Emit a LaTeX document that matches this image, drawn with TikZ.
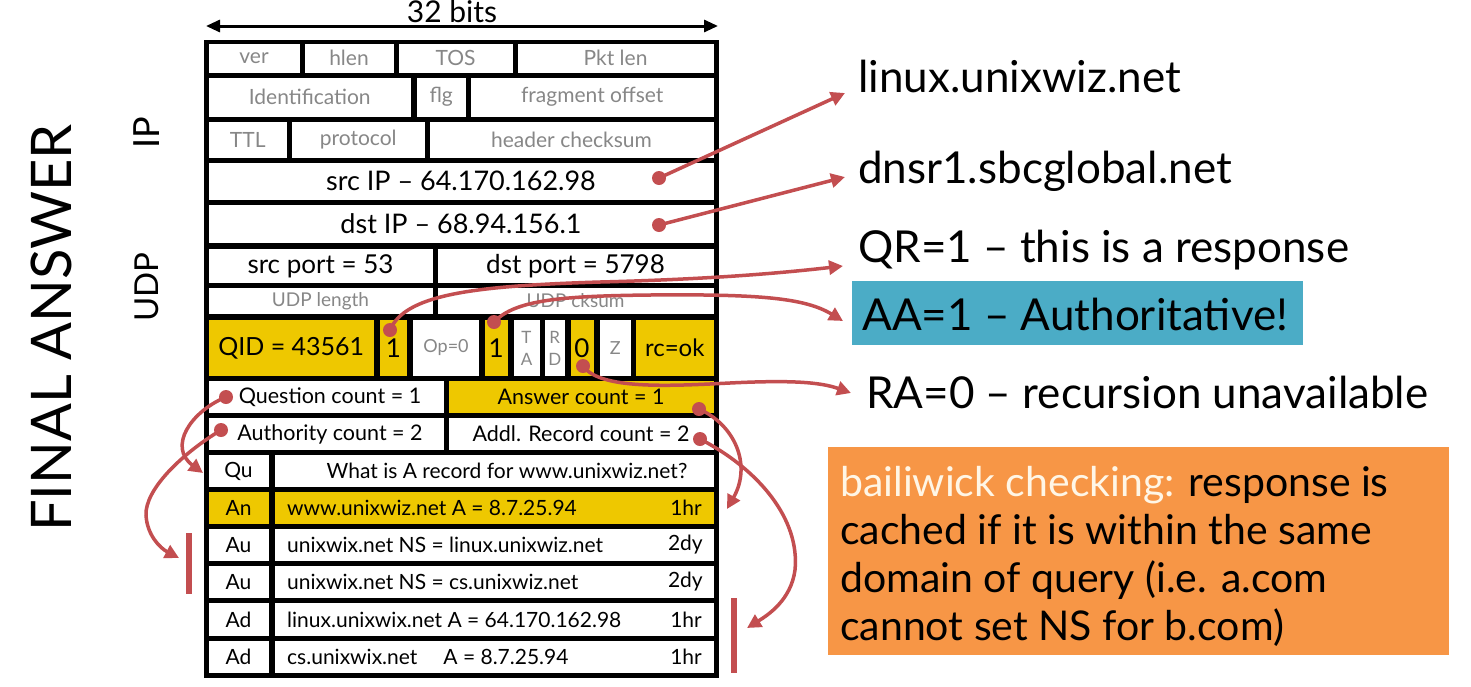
\documentclass[tikz,border=0pt]{standalone}
\usepackage{fontspec}
\setmainfont{Lato}
\usetikzlibrary{arrows.meta}
\definecolor{gold}{RGB}{238,200,0}
\definecolor{linkred}{RGB}{195,78,80}
\definecolor{aablue}{RGB}{75,172,198}
\definecolor{bailorange}{RGB}{247,150,70}
\definecolor{lbl}{RGB}{135,135,135}
\definecolor{cream}{RGB}{255,246,230}
\newcommand{\cellbox}[7]{%
  \pgfmathsetmacro\cbw{#4-#2}\pgfmathsetmacro\cbh{#5-#3}%
  \node[cell,minimum width=\cbw pt,minimum height=\cbh pt,#6] (#1) at ({(#2+#4)/2},{(#3+#5)/2}) {#7};}
\tikzset{
  cell/.style={fill=white, draw=none, inner sep=0pt, outer sep=0pt, text=black, font=\fontsize{26}{28}\selectfont},
  gl/.style={text=lbl, font=\fontsize{21}{23}\selectfont},
  yl/.style={fill=gold},
  md/.style={font=\fontsize{21.5}{23}\selectfont},
  rec/.style={inner sep=0pt, font=\fontsize{21}{23}\selectfont},
  link/.style={draw=linkred, line width=3.5pt, -{Triangle[length=14pt,width=14pt]}},
  dot/.style={circle, fill=linkred, minimum size=14pt, inner sep=0pt},
  rtext/.style={anchor=base west, inner sep=0pt, font=\fontsize{44}{48}\selectfont},
  bar/.style={fill=linkred, draw=none, inner sep=0pt},
}
\begin{document}
\begin{tikzpicture}[x=1pt,y=-1pt]
\useasboundingbox (0,0) rectangle (1471,686);
\fill[white] (0,0) rectangle (1471,686);

% width arrow
\coordinate (bl) at (206,26);
\coordinate (br) at (718,26);
\draw[line width=3pt, {Triangle[length=14pt,width=12pt]}-{Triangle[length=14pt,width=12pt]}] (bl) -- (br);
\node[anchor=base, inner sep=0pt, font=\fontsize{30}{32}\selectfont] (bits) at (452,22) {32 bits};

% side labels
\node[rotate=90, inner sep=0pt, font=\fontsize{56}{60}\selectfont] (final) at (51,328) {FINAL ANSWER};
\node[rotate=90, inner sep=0pt, font=\fontsize{36}{40}\selectfont] (iplbl) at (147,133) {IP};
\node[rotate=90, inner sep=0pt, font=\fontsize{33}{36}\selectfont] (udplbl) at (147,287) {UDP};

% frame
\node[fill=black, minimum width=515pt, minimum height=638.5pt, inner sep=0pt] (frame) at (461,358.75) {};

% IP header
\cellbox{ver}{208.5}{43.5}{299.5}{72.5}{gl}{ver}
\cellbox{hlen}{304.5}{43.5}{393.5}{72.5}{gl}{hlen}
\cellbox{tos}{398.5}{43.5}{512.5}{72.5}{gl}{TOS}
\cellbox{pktlen}{517.5}{43.5}{713.5}{72.5}{gl}{Pkt len}
\cellbox{ident}{208.5}{77.5}{411}{116.5}{gl}{Identification}
\cellbox{flg}{416.5}{77.5}{466}{116.5}{gl}{flg}
\cellbox{frag}{471}{77.5}{713.5}{116.5}{gl}{fragment offset}
\cellbox{ttl}{208.5}{121.5}{287}{158}{gl}{TTL}
\cellbox{proto}{292}{121.5}{424.5}{158}{gl}{protocol}
\cellbox{hchk}{429.5}{121.5}{713.5}{158}{gl}{header checksum}
\cellbox{srcip}{208.5}{162.5}{713.5}{200}{font=\fontsize{27}{29}\selectfont}{src IP -- 64.170.162.98}
\cellbox{dstip}{208.5}{205}{713.5}{243}{font=\fontsize{27}{29}\selectfont}{dst IP -- 68.94.156.1}

% UDP header
\cellbox{sport}{208.5}{249}{432.5}{283}{}{src port = 53}
\cellbox{dport}{437.5}{249}{713.5}{283}{}{dst port = 5798}
\cellbox{ulen}{208.5}{288}{432.5}{314}{gl,font=\fontsize{19}{21}\selectfont}{UDP length}
\cellbox{uck}{437.5}{288}{713.5}{314}{gl,font=\fontsize{19}{21}\selectfont}{UDP cksum}

% DNS flags
\cellbox{qid}{208.5}{320}{374}{376}{yl,font=\fontsize{25}{27}\selectfont}{QID = 43561}
\cellbox{qr}{380}{320}{407}{376}{yl}{1}
\cellbox{op}{413}{320}{479}{376}{gl,font=\fontsize{18}{20}\selectfont}{Op=0}
\cellbox{aa}{485}{320}{507.5}{376}{yl}{1}
\cellbox{tc}{513.5}{320}{539.5}{376}{gl,align=center,font=\fontsize{17}{22}\selectfont}{T\\A}
\cellbox{rd}{544.5}{320}{565}{376}{gl,align=center,font=\fontsize{17}{22}\selectfont}{R\\D}
\cellbox{ra}{570.5}{320}{593.5}{376}{yl}{0}
\cellbox{zz}{599.5}{320}{631}{376}{gl,font=\fontsize{18}{20}\selectfont}{Z}
\cellbox{rc}{636}{320}{713.5}{376}{yl,font=\fontsize{24}{26}\selectfont}{rc=ok}

% counts
\cellbox{qc}{208.5}{381}{443.5}{413}{md}{\hspace*{8pt}Question count = 1}
\cellbox{anc}{448.5}{381}{713.5}{413}{md,yl}{Answer count = 1}
\cellbox{auc}{208.5}{418}{443.5}{450}{md}{\hspace*{8pt}Authority count = 2}
\cellbox{adc}{448.5}{418}{713.5}{450}{md}{Addl. Record count = 2}

% records
\cellbox{qu}{208.5}{455}{268.5}{487}{rec}{Qu}
\cellbox{quc}{274.5}{455}{713.5}{487}{}{}
\cellbox{an}{208.5}{492}{268.5}{524}{rec,yl}{An}
\cellbox{anr}{274.5}{492}{713.5}{524}{yl}{}
\cellbox{au1}{208.5}{529}{268.5}{561}{rec}{Au}
\cellbox{au1r}{274.5}{529}{713.5}{561}{}{}
\cellbox{au2}{208.5}{566}{268.5}{598}{rec}{Au}
\cellbox{au2r}{274.5}{566}{713.5}{598}{}{}
\cellbox{ad1}{208.5}{603}{268.5}{636}{rec}{Ad}
\cellbox{ad1r}{274.5}{603}{713.5}{636}{}{}
\cellbox{ad2}{208.5}{641}{268.5}{673}{rec}{Ad}
\cellbox{ad2r}{274.5}{641}{713.5}{673}{}{}

\node[rec] (qut) at (507,471) {What is A record for www.unixwiz.net?};
\node[rec, anchor=west] (ant) at (287,508) {www.unixwiz.net A = 8.7.25.94};
\node[rec, anchor=east] (anl) at (702,508) {1hr};
\node[rec, anchor=west] (au1t) at (287,545) {unixwix.net NS = linux.unixwiz.net};
\node[rec, anchor=east] (au1l) at (703,545) {2dy};
\node[rec, anchor=west] (au2t) at (287,582) {unixwix.net NS = cs.unixwiz.net};
\node[rec, anchor=east] (au2l) at (703,582) {2dy};
\node[rec, anchor=west] (ad1t) at (287,620) {linux.unixwix.net A = 64.170.162.98};
\node[rec, anchor=east] (ad1l) at (702,620) {1hr};
\node[rec, anchor=west] (ad2t) at (287,657) {cs.unixwix.net\hspace*{26pt}A = 8.7.25.94};
\node[rec, anchor=east] (ad2l) at (702,657) {1hr};

% right side texts
\node[fill=aablue, minimum width=451pt, minimum height=64pt, inner sep=0pt] (aabox) at (1077.5,313) {};
\node[rtext] (linux) at (858,92) {linux.unixwiz.net};
\node[rtext] (dnsr) at (858,183) {dnsr1.sbcglobal.net};
\node[rtext] (qrt) at (858,262) {QR=1 -- this is a response};
\node[rtext] (aat) at (862,330) {AA=1 -- Authoritative!};
\node[rtext] (rat) at (866,408) {RA=0 -- recursion unavailable};

\node[fill=bailorange, minimum width=621pt, minimum height=208pt, inner sep=0pt] (bailbox) at (1138.5,551) {};
\node[anchor=north west, inner sep=0pt, align=left, font=\fontsize{41}{48}\selectfont] (bailt) at (840,466)
  {\textcolor{cream}{bailiwick checking:} response is\\cached if it is within the same\\domain of query (i.e. a.com\\cannot set NS for b.com)};

% bars
\node[bar, minimum width=6pt, minimum height=61pt] (lbar) at (188.5,563) {};
\node[bar, minimum width=6pt, minimum height=75pt] (rbar) at (734,635.5) {};

% dots
\node[dot] (d1) at (659,178) {};
\node[dot] (d2) at (659,225) {};
\node[dot] (d3) at (390,330) {};
\node[dot] (d4) at (494,322) {};
\node[dot] (d5) at (583,366) {};
\node[dot] (d6) at (226,397) {};
\node[dot] (d7) at (221,430) {};
\node[dot] (d8) at (699,409) {};
\node[dot] (d9) at (700,439) {};

% arrow targets
\coordinate (t1) at (845,93);
\coordinate (t2) at (845,177);
\coordinate (t3) at (843,266);
\coordinate (t4) at (843,321);
\coordinate (t5) at (851,393);
\coordinate (t6) at (203,473);
\coordinate (t7) at (179,558);
\coordinate (t8) at (727,509);
\coordinate (t9) at (747,628);

% connectors
\draw[link] (d1.center) -- (t1);
\draw[link] (d2.center) -- (t2);
\draw[link] (d3.center) .. controls (405,295) and (470,286) .. (600,282) .. controls (720,279) and (790,272) .. (t3);
\draw[link] (d4.center) .. controls (515,300) and (560,296) .. (650,295) .. controls (760,294) and (805,298) .. (t4);
\draw[link] (d5.center) .. controls (600,390) and (670,386) .. (730,383) .. controls (790,380) and (820,382) .. (t5);
\draw[link] (d6.center) .. controls (190,412) and (168,447) .. (t6);
\draw[link] (d7.center) .. controls (180,455) and (145,490) .. (146,515) .. controls (147,535) and (160,548) .. (t7);
\draw[link] (d8.center) .. controls (735,425) and (752,465) .. (t8);
\draw[link] (d9.center) .. controls (760,470) and (800,520) .. (795,570) .. controls (791,600) and (768,615) .. (t9);
\end{tikzpicture}
\end{document}
